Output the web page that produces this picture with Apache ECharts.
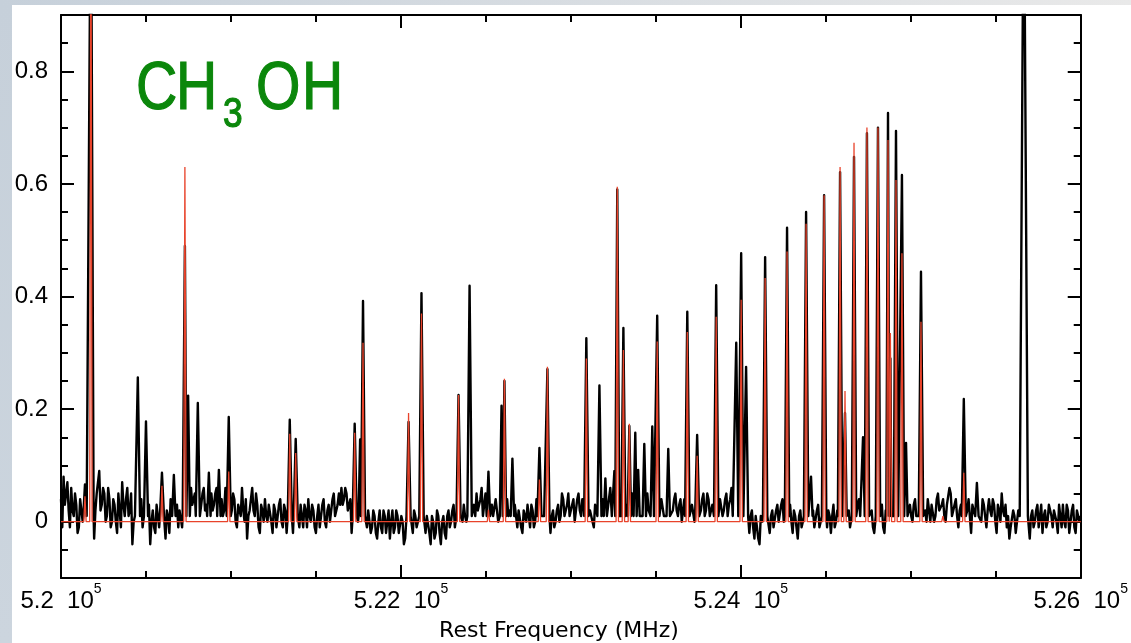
<!DOCTYPE html>
<html><head><meta charset="utf-8">
<script src="https://cdn.jsdelivr.net/npm/echarts@6/dist/echarts.min.js"></script>
<style>html,body{margin:0;padding:0;background:#fff}#c{width:1131px;height:643px}</style>
</head><body><div id="c"></div>
<script>
// ---------------- data ----------------
const xTickValues = [520000, 522000, 524000, 526000];
const yTickValues = [0, 0.2, 0.4, 0.6, 0.8];

// observed spectrum baseline (noise), one value every 15 MHz from 520000 MHz
const baselineStart = 520000;
const baselineStep = 15;
const observedBaseline = [
  0.04,0.08,0.05,0.02,0.06,0.01,0.03,-0.01,0.02,0.03,0.00,0.01,0.01,-0.03,0.05,0.09,0.03,0.05,0.01,0.04,
  0.00,0.03,-0.02,0.02,0.07,0.01,0.06,0.02,-0.04,0.01,0.01,0.02,-0.01,0.01,0.01,-0.04,0.02,-0.02,0.01,0.00,
  0.01,-0.03,0.01,0.04,0.01,0.01,-0.01,0.02,0.01,0.01,0.01,0.06,0.04,0.07,0.01,0.03,0.06,0.03,0.01,0.05,
  0.03,0.06,0.01,0.04,0.02,0.05,0.01,0.02,0.04,-0.01,0.03,0.06,0.00,-0.03,0.02,0.06,0.01,0.03,-0.02,0.02,
  0.04,0.00,0.03,-0.02,0.02,0.01,0.04,-0.01,0.02,0.00,0.01,-0.02,0.01,0.01,0.03,-0.01,0.02,0.04,0.00,0.02,
  -0.02,0.03,0.01,0.04,-0.01,0.03,0.02,0.05,0.02,0.05,0.06,0.04,0.05,0.02,-0.02,0.01,0.03,0.01,0.01,0.01,
  -0.01,0.02,-0.01,0.01,-0.03,0.02,-0.02,0.01,0.00,-0.03,0.02,-0.01,0.01,-0.02,0.00,-0.03,0.01,0.01,-0.02,0.01,
  -0.01,0.01,0.01,-0.02,0.01,-0.04,0.00,-0.02,0.01,-0.04,0.01,-0.03,0.02,0.00,0.03,0.00,0.01,0.01,0.03,0.00,
  0.01,0.01,0.03,0.05,0.02,0.06,0.03,0.01,0.01,0.03,0.01,0.04,0.02,0.01,0.01,0.04,0.02,0.01,0.03,-0.01,
  0.02,-0.02,0.01,0.03,-0.01,0.02,0.00,0.03,0.01,0.01,0.01,0.01,-0.02,0.02,0.00,0.03,0.01,0.04,0.02,0.05,
  0.01,0.04,0.02,0.05,0.01,0.03,0.01,0.00,0.02,-0.01,0.02,0.01,0.01,0.03,0.01,0.02,0.01,0.01,0.01,0.01,
  0.01,0.01,0.03,0.01,0.05,0.01,0.06,0.04,0.01,0.01,0.05,0.02,0.01,0.03,0.01,0.02,0.04,0.01,0.01,0.03,
  0.02,0.05,0.01,0.04,0.02,0.01,0.01,0.01,0.03,0.01,0.01,0.02,0.05,0.02,0.04,0.01,0.03,0.01,0.02,0.04,
  0.02,0.05,0.03,0.06,0.02,0.01,0.01,0.01,0.01,0.01,-0.02,0.02,-0.03,0.01,-0.04,0.00,0.01,0.01,-0.02,0.02,
  -0.01,0.03,0.00,0.04,0.01,0.01,0.03,-0.02,0.01,-0.03,0.02,0.00,0.01,0.01,0.01,0.02,-0.01,0.03,0.00,0.01,
  0.01,0.02,-0.02,0.03,0.00,0.01,0.01,0.01,0.01,0.02,-0.01,0.01,0.01,0.04,0.01,0.01,0.01,0.01,0.02,-0.02,
  0.01,0.01,0.03,-0.02,0.01,0.01,0.01,0.01,0.01,0.02,0.01,0.01,0.01,0.03,0.00,0.04,0.01,0.01,0.01,0.02,
  0.04,0.00,0.03,0.01,0.05,0.02,0.04,0.00,0.03,0.05,0.02,0.04,-0.01,0.03,0.01,0.01,0.04,-0.02,0.02,0.01,
  0.03,0.00,0.03,-0.01,0.04,0.01,0.03,-0.02,0.02,0.05,0.01,-0.01,-0.03,-0.01,0.01,0.00,0.03,0.01,0.01,0.01,
  -0.03,0.02,0.00,0.03,0.01,-0.02,0.02,0.00,0.03,-0.01,0.02,-0.02,0.01,0.03,-0.01,0.02,0.00,0.03,-0.02,0.02,
  0.01
];
// noise read half-way between the points above (at +7.5 MHz)
const observedBaselineMid = [
  -0.01,0.03,0.07,-0.01,0.02,0.05,-0.02,0.04,0.00,0.01,0.03,0.01,0.01,0.02,0.07,0.02,0.06,0.00,0.06,-0.01,
  0.04,0.00,0.05,-0.01,0.03,0.04,0.01,0.05,0.00,0.03,0.01,0.04,0.02,0.01,0.03,0.00,-0.01,0.03,-0.01,0.02,
  0.01,0.02,-0.02,0.01,0.01,0.03,0.02,-0.01,0.01,0.01,0.01,0.03,0.05,0.02,0.01,0.05,0.02,0.05,0.01,0.02,
  0.05,0.02,0.01,0.01,0.06,0.02,0.01,0.05,0.00,0.03,0.01,0.02,0.04,0.01,0.04,0.02,0.05,-0.01,0.03,0.00,
  0.01,0.03,0.00,0.03,-0.01,0.03,0.00,0.03,-0.02,0.01,0.01,0.02,0.01,-0.01,0.01,0.03,-0.01,0.01,0.03,-0.01,
  0.01,-0.01,0.03,0.00,0.02,0.00,0.04,0.01,0.03,0.03,0.03,0.06,0.02,0.04,0.01,0.01,0.00,0.01,0.01,0.01,
  0.02,-0.02,0.02,-0.02,0.00,-0.01,0.02,-0.02,0.02,0.00,-0.02,0.02,-0.02,0.01,-0.04,0.01,0.01,0.01,0.02,-0.01,
  0.02,0.01,0.01,0.01,-0.02,0.01,-0.03,0.02,-0.02,0.00,-0.02,0.01,-0.01,0.02,-0.01,0.02,0.01,0.00,0.01,0.02,
  0.01,0.01,0.01,0.02,0.04,0.01,0.05,0.00,0.01,0.01,0.04,0.00,0.03,0.01,0.01,0.01,0.05,0.01,0.01,0.02,
  -0.01,0.02,0.00,0.01,0.03,-0.01,0.04,0.01,0.01,0.01,0.01,0.01,0.01,-0.01,0.02,0.00,0.05,0.01,0.03,0.01,
  0.03,0.00,0.04,0.02,0.04,0.00,0.01,0.02,0.00,0.03,0.00,0.01,0.04,0.01,0.01,0.01,0.01,0.01,0.01,0.01,
  0.01,0.01,0.01,0.01,0.02,0.01,0.02,0.01,0.03,0.01,0.02,0.04,0.01,0.01,0.01,0.04,0.01,0.03,0.01,0.01,
  0.04,0.02,0.03,0.00,0.04,0.01,0.01,0.03,0.00,0.01,0.01,0.04,0.01,0.05,0.01,0.03,0.00,0.01,0.04,0.01,
  0.04,0.01,0.04,0.01,0.03,0.01,0.01,0.01,0.01,0.01,0.01,-0.01,0.01,-0.03,0.01,-0.02,0.01,0.01,0.01,-0.01,
  0.02,0.00,0.03,0.00,0.03,0.01,0.00,0.02,-0.01,0.01,-0.01,0.03,0.01,0.01,0.01,-0.01,0.02,-0.01,0.02,0.01,
  -0.01,0.01,0.01,-0.01,0.02,0.01,0.01,0.01,0.01,-0.01,0.02,0.01,0.03,0.01,0.01,0.01,0.01,0.01,-0.01,0.01,
  0.01,0.01,-0.01,0.02,0.01,0.01,0.01,0.01,0.01,0.00,0.01,0.01,0.01,0.01,0.03,0.01,0.02,0.01,0.01,0.00,
  0.02,0.03,0.00,0.04,0.02,0.03,0.01,0.03,0.06,0.01,0.03,0.01,0.02,0.00,0.01,0.02,0.01,0.03,0.00,0.01,
  0.01,0.04,0.01,0.02,0.02,0.04,0.00,0.03,0.00,0.02,0.03,0.01,-0.01,0.02,-0.02,0.02,0.01,0.01,0.01,0.01,
  0.01,-0.01,0.02,-0.01,0.03,0.01,-0.01,0.03,0.01,0.02,0.00,0.03,-0.01,0.00,0.03,-0.02,0.02,-0.01,0.02,0.00
];

// spectral lines: rest frequency (MHz), observed peak, model peak (null = none)
const lineFreqs = [
  520141,520176,520452,520500,520594,520664,520729,520748,520805,520870,
  520929,520987,521346,521381,521728,521760,521777,522045,522121,522339,
  522404,522515,522592,522609,522656,522815,522862,523091,523168,523203,
  523232,523256,523273,523309,523344,523379,523396,523432,523479,523508,
  523573,523685,523743,523855,523973,524002,524031,524143,524272,524384,
  524413,524490,524584,524613,524666,524719,524742,524807,524866,524880,
  524913,524948,524972,525060,525189,525312,525389,525665
];
const observedPeaks = [
  0.066,1.20,0.256,0.178,0.087,0.083,0.49,0.224,0.211,0.087,
  0.092,0.186,0.181,0.147,0.174,0.146,0.392,0.177,0.406,0.225,
  0.419,0.089,0.206,0.25,0.112,0.131,0.271,0.326,0.242,0.077,
  0.06,0.09,0.59,0.344,0.17,0.158,0.092,0.138,0.169,0.366,
  0.129,0.373,0.154,0.42,0.318,0.477,0.275,0.47,0.522,0.55,
  0.08,0.58,0.621,0.193,0.648,0.15,0.69,0.70,0.726,0.29,
  0.694,0.616,0.14,0.444,null,0.218,0.069,1.20
];
const modelPeaks = [
  0.045,1.20,null,null,0.064,null,0.63,null,null,null,
  null,0.089,0.156,0.122,0.158,null,0.318,0.193,0.37,0.225,
  null,0.021,null,0.254,null,0.075,0.275,0.29,null,null,
  null,null,0.595,0.305,0.174,null,null,null,null,0.32,
  null,0.337,0.117,0.364,null,0.394,null,0.433,0.48,0.529,
  null,0.58,0.63,0.232,0.673,null,0.70,0.70,0.678,0.335,
  0.607,0.477,null,0.355,0.01,0.087,null,null
];
// line half widths (MHz) of the observed peaks
const observedHalfWidths = [
  10,16,13,12,12,10,13,10,12,10,
  10,12,12,12,12,9,12,12,13,12,
  13,10,10,10,10,12,12,13,12,9,
  9,9,12,12,10,10,9,10,10,13,
  10,13,12,13,12,13,12,13,13,13,
  9,13,13,10,13,10,13,13,10,6,
  13,13,9,13,0,12,10,24
];

// ---------------- build series ----------------
function nearObservedLine(f) {
  return lineFreqs.some((lf, k) => observedPeaks[k] !== null && Math.abs(f - lf) < observedHalfWidths[k] + 3);
}
const observed = [];
observedBaseline.forEach((v, i) => {
  const f = baselineStart + i * baselineStep;
  if (!nearObservedLine(f)) observed.push([f, v]);
});
observedBaselineMid.forEach((v, i) => {
  const f = baselineStart + i * baselineStep + baselineStep / 2;
  if (!nearObservedLine(f)) observed.push([f, v]);
});
lineFreqs.forEach((lf, k) => {
  const h = observedPeaks[k];
  if (h === null) return;
  const w = observedHalfWidths[k];
  observed.push([lf - w, 0.01], [lf, h], [lf + w, 0.01]);
});
observed.sort((a, b) => a[0] - b[0]);

const modelHalfWidth = 7;
const model = [[520000, 0], [526000, 0]];
lineFreqs.forEach((lf, k) => {
  const h = modelPeaks[k];
  if (h === null) return;
  model.push([lf - modelHalfWidth, 0], [lf, h], [lf + modelHalfWidth, 0]);
});
model.sort((a, b) => a[0] - b[0]);

// ---------------- chart ----------------
const FONT = 'Liberation Sans';
const black = '#000';
const green = '#0b870b';
const chart = echarts.init(document.getElementById('c'), null, { renderer: 'canvas' });

const xBase = {
  type: 'value', min: 520000, max: 526000, interval: 2000,
  splitLine: { show: false },
  axisLine: { show: true, onZero: false, lineStyle: { color: black, width: 2 } },
  axisTick: { show: true, inside: true, length: 13, lineStyle: { color: black, width: 2 } },
  minorTick: { show: true, splitNumber: 4, length: 7, lineStyle: { color: black, width: 2 } }
};
const yMajor = {
  type: 'value', min: -0.1, max: 0.9,
  splitLine: { show: false },
  axisLine: { show: true, onZero: false, lineStyle: { color: black, width: 2 } },
  axisTick: { show: true, inside: true, length: 13, customValues: yTickValues, lineStyle: { color: black, width: 2 } }
};
const yMinor = {
  type: 'value', min: -0.1, max: 0.9, interval: 0.05,
  splitLine: { show: false },
  axisLine: { show: false },
  axisLabel: { show: false },
  axisTick: { show: true, inside: true, length: 7, lineStyle: { color: black, width: 2 } }
};

function letter(t, x, y, size) {
  return { type: 'text', x: x, y: y, scaleX: 0.84,
    style: { text: t, fontSize: size, fontFamily: FONT, fill: green, stroke: green, lineWidth: 1.2,
             verticalAlign: 'middle', align: 'left' } };
}

const option = {
  animation: false,
  backgroundColor: '#fff',
  grid: { left: 61, top: 15, right: 49, bottom: 65, containLabel: false },
  xAxis: [
    Object.assign({}, xBase, {
      position: 'bottom',
      axisLabel: {
        show: true, margin: 4, showMinLabel: true, showMaxLabel: true,
        formatter: v => '{n|' + (v / 1e5) + '  10}{s|5}',
        rich: {
          n: { fontSize: 24, lineHeight: 38, fontFamily: FONT, color: black },
          s: { fontSize: 14, lineHeight: 14, verticalAlign: 'top', fontFamily: FONT, color: black }
        }
      }
    }),
    Object.assign({}, xBase, { position: 'top', axisLabel: { show: false } })
  ],
  yAxis: [
    Object.assign({}, yMajor, {
      position: 'left',
      axisLabel: {
        show: true, margin: 13, customValues: yTickValues,
        fontSize: 24, fontFamily: FONT, color: black,
        formatter: v => String(Math.round(v * 10) / 10)
      }
    }),
    Object.assign({}, yMinor, { position: 'left' }),
    Object.assign({}, yMajor, { position: 'right', axisLabel: { show: false } }),
    Object.assign({}, yMinor, { position: 'right' })
  ],
  series: [
    {
      name: 'observed', type: 'line', xAxisIndex: 0, yAxisIndex: 0,
      data: observed, symbol: 'none', clip: true, z: 2,
      lineStyle: { color: '#000', width: 2.4, join: 'round' }
    },
    {
      name: 'model', type: 'line', xAxisIndex: 0, yAxisIndex: 0,
      data: model, symbol: 'none', clip: true, z: 3,
      lineStyle: { color: '#e8432b', width: 1.3 }
    }
  ],
  graphic: [
    { type: 'rect', z: -1, shape: { x: 0, y: 0, width: 12, height: 643 },
      style: { fill: new echarts.graphic.LinearGradient(0, 0, 0, 1, [{ offset: 0, color: '#c6d0da' }, { offset: 1, color: '#ccd5de' }]) } },
    { type: 'rect', z: -1, shape: { x: 0, y: 0, width: 1131, height: 5 },
      style: { fill: new echarts.graphic.LinearGradient(0, 0, 1, 0, [{ offset: 0, color: '#c6d0da' }, { offset: 1, color: '#e9e9e9' }]) } },
    letter('C', 136, 90, 68),
    letter('H', 176, 90, 68),
    letter('3', 223, 115, 42),
    letter('O', 256, 90, 68),
    letter('H', 302, 90, 68),
    { type: 'text', x: 559, y: 631, style: { text: 'Rest Frequency (MHz)', fontSize: 22, fontFamily: 'DejaVu Sans', fill: '#000', verticalAlign: 'middle', align: 'center' } }
  ]
};
chart.setOption(option);
</script>
</body></html>
